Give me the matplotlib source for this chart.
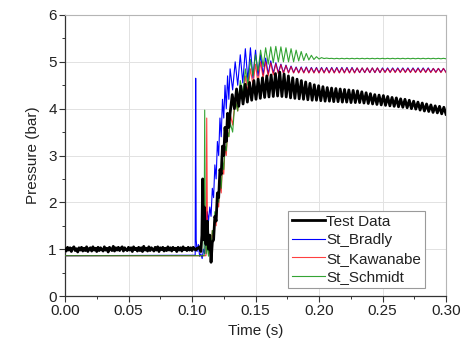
import numpy as np
import matplotlib
matplotlib.use("Agg")
import matplotlib.pyplot as plt

plt.rcParams['font.family'] = ['Liberation Sans', 'DejaVu Sans']

# ---------------- data ----------------
# Test Data baseline (t = 0 .. 0.104, step 0.001)
t_base = np.round(np.arange(105) * 0.001, 3)
p_test_base = [1.00, 0.96, 1.04, 0.98, 1.03, 0.95, 1.02, 1.05, 0.97, 1.01,
               0.94, 1.03, 0.98, 1.04, 0.96, 1.02, 0.97, 1.05, 0.95, 1.01,
               1.03, 0.96, 1.05, 0.98, 1.02, 0.95, 1.04, 0.97, 1.03, 0.99,
               0.96, 1.05, 0.98, 1.02, 0.94, 1.04, 1.00, 0.97, 1.06, 0.96,
               1.03, 0.98, 1.04, 0.97, 1.02, 1.05, 0.96, 1.03, 0.99, 0.97,
               1.04, 0.98, 1.03, 0.95, 1.05, 0.99, 1.02, 0.96, 1.04, 0.97,
               1.03, 0.95, 1.06, 0.98, 1.02, 0.96, 1.05, 0.97, 1.03, 1.00,
               0.96, 1.04, 0.98, 1.05, 0.95, 1.03, 0.99, 1.04, 0.96, 1.02,
               0.97, 1.05, 0.98, 1.03, 0.96, 1.04, 0.99, 1.02, 0.95, 1.04,
               0.98, 1.03, 0.96, 1.05, 0.99, 1.02, 0.97, 1.04, 0.98, 1.03,
               0.97, 1.04, 1.00, 0.98, 1.02]

# transient segments
t_test_tr = [0.105, 0.106, 0.107, 0.1078, 0.1084, 0.109, 0.1096, 0.110, 0.111, 0.112,
             0.113, 0.114, 0.115, 0.116, 0.117, 0.118, 0.119, 0.120, 0.121, 0.122,
             0.123, 0.124, 0.125, 0.126, 0.127, 0.128, 0.129]
p_test_tr = [1.02, 1.05, 0.95, 1.30, 2.50, 1.20, 1.90, 1.40, 1.10, 1.60,
             1.00, 1.30, 0.72, 1.15, 1.20, 1.70, 1.60, 2.20, 2.10, 2.70,
             2.60, 3.20, 3.00, 3.60, 3.30, 3.90, 3.60]

t_brad_tr = [0.0, 0.1025, 0.1029, 0.1033, 0.1040, 0.1050, 0.1060, 0.1070, 0.1080, 0.1090,
             0.1100, 0.1110, 0.1120, 0.1130, 0.1140, 0.1150, 0.1160, 0.1170, 0.1180,
             0.1190, 0.1200, 0.1210, 0.1220, 0.1230, 0.1240, 0.1250, 0.1260, 0.1270,
             0.1280, 0.1290]
p_brad_tr = [0.86, 0.87, 4.65, 1.20, 0.95, 1.10, 0.85, 0.90, 0.80, 1.00,
             0.90, 1.50, 1.80, 1.60, 1.90, 1.70, 2.30, 2.10, 2.80,
             2.50, 3.30, 3.00, 3.80, 3.40, 4.20, 3.80, 4.50, 4.00,
             4.70, 4.20]

t_kawa_tr = [0.0, 0.1110, 0.1116, 0.1122, 0.1130, 0.1140, 0.1150, 0.1160, 0.1170, 0.1180,
             0.1190, 0.1200, 0.1210, 0.1220, 0.1230, 0.1240, 0.1250, 0.1260, 0.1270,
             0.1280, 0.1290]
p_kawa_tr = [0.86, 0.86, 3.80, 1.20, 0.90, 1.20, 0.95, 1.40, 1.20, 1.70,
             1.50, 2.00, 1.90, 2.40, 2.20, 2.80, 2.60, 3.20, 3.00,
             3.50, 3.40]

t_schm_tr = [0.0, 0.1095, 0.1100, 0.1105, 0.1112, 0.1120, 0.1130, 0.1140, 0.1150, 0.1160,
             0.1170, 0.1180, 0.1190, 0.1200, 0.1210, 0.1220, 0.1230, 0.1240, 0.1250,
             0.1260, 0.1270, 0.1280, 0.1290]
p_schm_tr = [0.86, 0.86, 3.97, 1.30, 0.90, 1.10, 0.85, 1.20, 1.00, 1.40,
             1.30, 1.80, 1.60, 2.10, 2.00, 2.50, 2.30, 2.90, 2.70,
             3.20, 3.10, 3.50, 3.40]

# Test Data oscillating part, t = 0.130 .. 0.300 step 0.0017
t_test_osc = np.round(0.130 + np.arange(101) * 0.0017, 4)
p_test_osc = [3.90, 4.30, 4.00, 4.42, 4.05, 4.48, 4.10, 4.52, 4.14, 4.56,
              4.18, 4.60, 4.20, 4.63, 4.22, 4.66, 4.24, 4.70, 4.25, 4.72,
              4.26, 4.75, 4.27, 4.78, 4.26, 4.74, 4.25, 4.70, 4.23, 4.66,
              4.22, 4.63, 4.21, 4.60, 4.20, 4.57, 4.19, 4.54, 4.18, 4.51,
              4.18, 4.49, 4.17, 4.47, 4.16, 4.45, 4.16, 4.44, 4.15, 4.43,
              4.15, 4.42, 4.14, 4.41, 4.14, 4.40, 4.13, 4.39, 4.13, 4.38,
              4.13, 4.36, 4.12, 4.34, 4.11, 4.32, 4.10, 4.30, 4.09, 4.29,
              4.08, 4.28, 4.07, 4.26, 4.06, 4.24, 4.05, 4.23, 4.04, 4.21,
              4.03, 4.20, 4.02, 4.18, 4.00, 4.16, 3.99, 4.14, 3.97, 4.12,
              3.95, 4.10, 3.94, 4.08, 3.92, 4.06, 3.91, 4.05, 3.89, 4.03,
              3.88]

# simulated series oscillating part, t = 0.130 .. 0.300 step 0.002
t_osc = np.round(0.130 + np.arange(86) * 0.002, 3)

p_brad_osc = [4.85, 4.40, 5.00, 4.50, 5.15, 4.55, 5.28, 4.60, 5.30, 4.65,
              5.25, 4.70, 5.15, 4.72, 5.08, 4.74, 5.02, 4.76, 4.98, 4.77,
              4.95, 4.77, 4.93, 4.77, 4.91, 4.77, 4.89, 4.77, 4.89, 4.77,
              4.89, 4.77, 4.88, 4.77, 4.88, 4.77, 4.88, 4.77, 4.88, 4.77,
              4.88, 4.77, 4.88, 4.77, 4.88, 4.77, 4.88, 4.77, 4.88, 4.77,
              4.87, 4.77, 4.87, 4.77, 4.87, 4.77, 4.87, 4.77, 4.87, 4.77,
              4.87, 4.78, 4.87, 4.78, 4.87, 4.78, 4.87, 4.78, 4.87, 4.78,
              4.87, 4.78, 4.87, 4.78, 4.87, 4.78, 4.87, 4.78, 4.87, 4.78,
              4.86, 4.78, 4.86, 4.78, 4.86, 4.78]

p_kawa_osc = [3.90, 3.65, 4.20, 3.95, 4.50, 4.20, 4.70, 4.35, 4.85, 4.50,
              4.95, 4.55, 5.00, 4.65, 5.00, 4.70, 4.98, 4.72, 4.96, 4.74,
              4.94, 4.75, 4.92, 4.76, 4.90, 4.76, 4.88, 4.76, 4.88, 4.76,
              4.88, 4.76, 4.87, 4.76, 4.87, 4.76, 4.87, 4.76, 4.87, 4.76,
              4.87, 4.76, 4.87, 4.76, 4.87, 4.76, 4.87, 4.76, 4.87, 4.76,
              4.87, 4.77, 4.87, 4.77, 4.87, 4.77, 4.87, 4.77, 4.87, 4.77,
              4.86, 4.77, 4.86, 4.77, 4.86, 4.77, 4.86, 4.77, 4.86, 4.77,
              4.86, 4.77, 4.86, 4.77, 4.86, 4.77, 4.86, 4.77, 4.86, 4.77,
              4.86, 4.77, 4.86, 4.77, 4.86, 4.77]

p_schm_osc = [3.70, 3.50, 4.20, 3.95, 4.60, 4.30, 4.85, 4.50, 5.05, 4.70,
              5.15, 4.80, 5.25, 4.90, 5.30, 4.95, 5.32, 4.98, 5.33, 5.00,
              5.32, 5.00, 5.30, 5.00, 5.28, 5.00, 5.25, 5.02, 5.22, 5.03,
              5.18, 5.04, 5.14, 5.05, 5.11, 5.06, 5.09, 5.07, 5.08, 5.07,
              5.075, 5.065, 5.075, 5.065, 5.075, 5.065, 5.075, 5.065, 5.075, 5.065,
              5.075, 5.065, 5.075, 5.065, 5.075, 5.065, 5.075, 5.065, 5.075, 5.065,
              5.075, 5.065, 5.075, 5.065, 5.075, 5.065, 5.075, 5.065, 5.075, 5.065,
              5.075, 5.065, 5.075, 5.065, 5.075, 5.065, 5.075, 5.065, 5.075, 5.065,
              5.075, 5.065, 5.075, 5.065, 5.075, 5.065]

labels = ["Test Data", "St_Bradly", "St_Kawanabe", "St_Schmidt"]
colors = ["black", "#0000ff", "#ff0000", "#1e9a1e"]

x_ticks = [0.00, 0.05, 0.10, 0.15, 0.20, 0.25, 0.30]
y_ticks = [0, 1, 2, 3, 4, 5, 6]


def join(t1, p1, t2, p2):
    n = min(len(t2), len(p2))
    return np.concatenate([np.asarray(t1, float), np.asarray(t2[:n], float)]), \
        np.concatenate([np.asarray(p1, float), np.asarray(p2[:n], float)])


# ---------------- figure ----------------
fig = plt.figure(figsize=(4.65, 3.49), dpi=100)
ax = fig.add_axes([65 / 465, 53 / 349, 381 / 465, 281 / 349])

tt, pt = join(t_base, p_test_base, t_test_tr, p_test_tr)
tt, pt = join(tt, pt, t_test_osc, p_test_osc)
tb, pb = join(t_brad_tr, p_brad_tr, t_osc, p_brad_osc)
tk, pk = join(t_kawa_tr, p_kawa_tr, t_osc, p_kawa_osc)
ts, ps = join(t_schm_tr, p_schm_tr, t_osc, p_schm_osc)

ax.plot(tb, pb, color=colors[1], lw=0.8, label=labels[1], zorder=4)
ax.plot(tk, pk, color=colors[2], lw=0.8, alpha=0.75, label=labels[2], zorder=5)
ax.plot(ts, ps, color=colors[3], lw=0.8, alpha=0.9, label=labels[3], zorder=6)
ax.plot(tt, pt, color=colors[0], lw=2.0, label=labels[0], zorder=7)

ax.set_xlim(0, 0.30)
ax.set_ylim(0, 6)
ax.set_xticks(x_ticks)
ax.set_xticklabels([f"{v:.2f}" for v in x_ticks])
ax.set_yticks(y_ticks)
ax.set_xticks(np.arange(0.025, 0.30, 0.05), minor=True)
ax.set_yticks(np.arange(0.5, 6, 1.0), minor=True)

ax.grid(True, which='major', color='#e2e2e2', lw=0.7, zorder=0)
ax.set_axisbelow(True)

for s in ['top', 'right']:
    ax.spines[s].set_color('#b5b5b5')
    ax.spines[s].set_linewidth(0.8)
for s in ['left', 'bottom']:
    ax.spines[s].set_color('#333333')
    ax.spines[s].set_linewidth(0.9)

ax.tick_params(axis='both', which='major', direction='out', length=4, width=0.8,
               labelsize=11, color='#333333', labelcolor='#222222', pad=2)
ax.tick_params(axis='both', which='minor', direction='out', length=2.5, width=0.7,
               color='#333333')

ax.set_xlabel("Time (s)", fontsize=11, color='#222222', labelpad=4)
ax.set_ylabel("Pressure (bar)", fontsize=11, color='#222222', labelpad=6)

handles, labs = ax.get_legend_handles_labels()
order = [labs.index(l) for l in labels]
leg = ax.legend([handles[i] for i in order], [labs[i] for i in order],
                loc='lower right', bbox_to_anchor=(0.945, 0.028), fontsize=11,
                frameon=True, fancybox=False, framealpha=1, edgecolor='#9a9a9a',
                handlelength=2.2, handletextpad=0.08, labelspacing=0.3,
                borderpad=0.25, borderaxespad=0)
leg.get_frame().set_linewidth(0.8)
for txt in leg.get_texts():
    txt.set_color('#222222')

fig.savefig("out.png", dpi=100)
